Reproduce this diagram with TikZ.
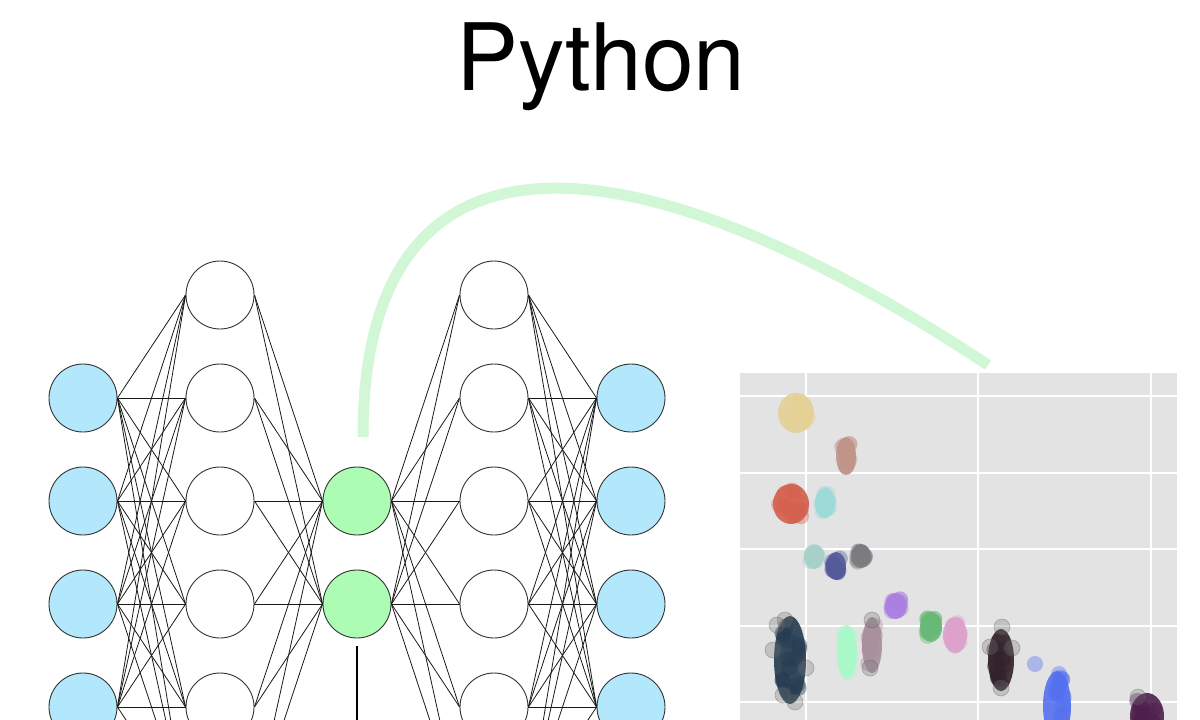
\documentclass[tikz,border=0pt]{standalone}
\usepackage{fontspec}
\setmainfont{TeX Gyre Heros}
\definecolor{inblue}{HTML}{B3E8FC}
\definecolor{codegreen}{HTML}{ADFCB4}
\definecolor{linkgreen}{HTML}{D2F7D6}
\definecolor{panelgray}{HTML}{E3E3E3}
\definecolor{ptsand}{HTML}{E4D196}
\definecolor{ptclay}{HTML}{C09488}
\definecolor{ptbrick}{HTML}{D4604E}
\definecolor{ptaqua}{HTML}{9EDAD8}
\definecolor{ptsage}{HTML}{A6D0C8}
\definecolor{ptindigo}{HTML}{545A9A}
\definecolor{ptslate}{HTML}{7C7C80}
\definecolor{ptviolet}{HTML}{AA80E0}
\definecolor{ptleaf}{HTML}{68B878}
\definecolor{ptrose}{HTML}{DCA2CC}
\definecolor{ptnavy}{HTML}{243A50}
\definecolor{ptmint}{HTML}{A8FAC8}
\definecolor{ptmauve}{HTML}{A8909C}
\definecolor{ptcoal}{HTML}{32222A}
\definecolor{ptblue}{HTML}{5570F0}
\definecolor{ptplum}{HTML}{4E1E4E}
\tikzset{
  neuron/.style={circle,draw=black!80,line width=0.9pt,minimum size=68pt,inner sep=0pt,fill=white},
  edge/.style={line width=0.8pt,black!90},
  gridline/.style={white,line width=2.5pt},
  outlier/.style={fill=black!55,draw=black!70,fill opacity=0.3,draw opacity=0.35,line width=0.6pt}
}
% x, y, half width, half height, colour
\newcommand{\pointcloud}[5]{%
  \fill[#5,opacity=0.9] (#1,#2) ellipse ({#3} and {#4});
  \foreach \k in {1,...,14}
    \fill[#5,opacity=0.4] ({#1+rand*(#3-6)},{#2+rand*(#4-6)}) circle (8);
}
\begin{document}
\begin{tikzpicture}[x=1pt,y=-1pt]
\pgfmathsetseed{11}
\useasboundingbox (0,0) rectangle (1200,720);
\clip (0,0) rectangle (1200,720);
\fill[white] (0,0) rectangle (1200,720);
%\draw[step=100,gray!40,very thin] (0,0) grid (1200,720);
\node[font=\fontsize{93}{93}\selectfont,anchor=base] (title) at (601,90) {Python};

\foreach \i in {1,...,4} \node[neuron,fill=inblue] (in\i) at (83,{295+103*\i}) {};
\foreach \i in {1,...,6} \node[neuron] (ha\i) at (220,{192+103*\i}) {};
\foreach \i in {1,2} \node[neuron,fill=codegreen] (code\i) at (357,{398+103*\i}) {};
\foreach \i in {1,...,6} \node[neuron] (hb\i) at (494,{192+103*\i}) {};
\foreach \i in {1,...,4} \node[neuron,fill=inblue] (out\i) at (631,{295+103*\i}) {};

\foreach \i in {1,...,4} \foreach \j in {1,...,6} \draw[edge] (in\i.east) -- (ha\j.west);
\foreach \i in {1,...,6} \foreach \j in {1,2} \draw[edge] (ha\i.east) -- (code\j.west);
\foreach \i in {1,2} \foreach \j in {1,...,6} \draw[edge] (code\i.east) -- (hb\j.west);
\foreach \i in {1,...,6} \foreach \j in {1,...,4} \draw[edge] (hb\i.east) -- (out\j.west);

\coordinate (tail) at (357,735);
\draw[line width=2pt,shorten <=8pt] (code2.south) -- (tail);

\fill[panelgray] (740,373) rectangle (1177,730);
\foreach \y in {396,473,549,626,702} \draw[gridline] (740,\y) -- (1177,\y);
\foreach \x in {806,978,1151} \draw[gridline] (\x,373) -- (\x,730);

\pointcloud{796}{413}{18}{20}{ptsand}
\pointcloud{846}{456}{10}{19}{ptclay}
\pointcloud{791}{504}{18}{20}{ptbrick}
\pointcloud{825}{503}{10}{15}{ptaqua}
\pointcloud{814}{557}{10}{12}{ptsage}
\pointcloud{836}{566}{10}{14}{ptindigo}
\pointcloud{861}{556}{10}{12}{ptslate}
\pointcloud{896}{606}{11}{13}{ptviolet}
\pointcloud{931}{627}{11}{15}{ptleaf}
\pointcloud{955}{635}{12}{18}{ptrose}
\pointcloud{790}{660}{16}{44}{ptnavy}
\pointcloud{847}{652}{10}{27}{ptmint}
\pointcloud{872}{645}{10}{28}{ptmauve}
\pointcloud{1001}{660}{13}{31}{ptcoal}
\pointcloud{1057}{706}{14}{35}{ptblue}
\pointcloud{1147}{716}{17}{23}{ptplum}
\fill[ptblue,opacity=0.4] (1035,664) circle (8);
\fill[ptblue,opacity=0.4] (1059,674) circle (8);
\foreach \p in {(785,620),(777,625),(773,650),(783,695),(795,702),(806,668),
  (872,620),(870,668),(1002,627),(990,647),(1012,648),(1001,688),(1138,697)}
  \draw[outlier] \p circle (8);

\coordinate (linkstart) at (363,437);
\coordinate (linkend) at (988,365);
\draw[linkgreen,line width=11pt] (linkstart) .. controls (363,100) and (640,135) .. (linkend);
\end{tikzpicture}
\end{document}
